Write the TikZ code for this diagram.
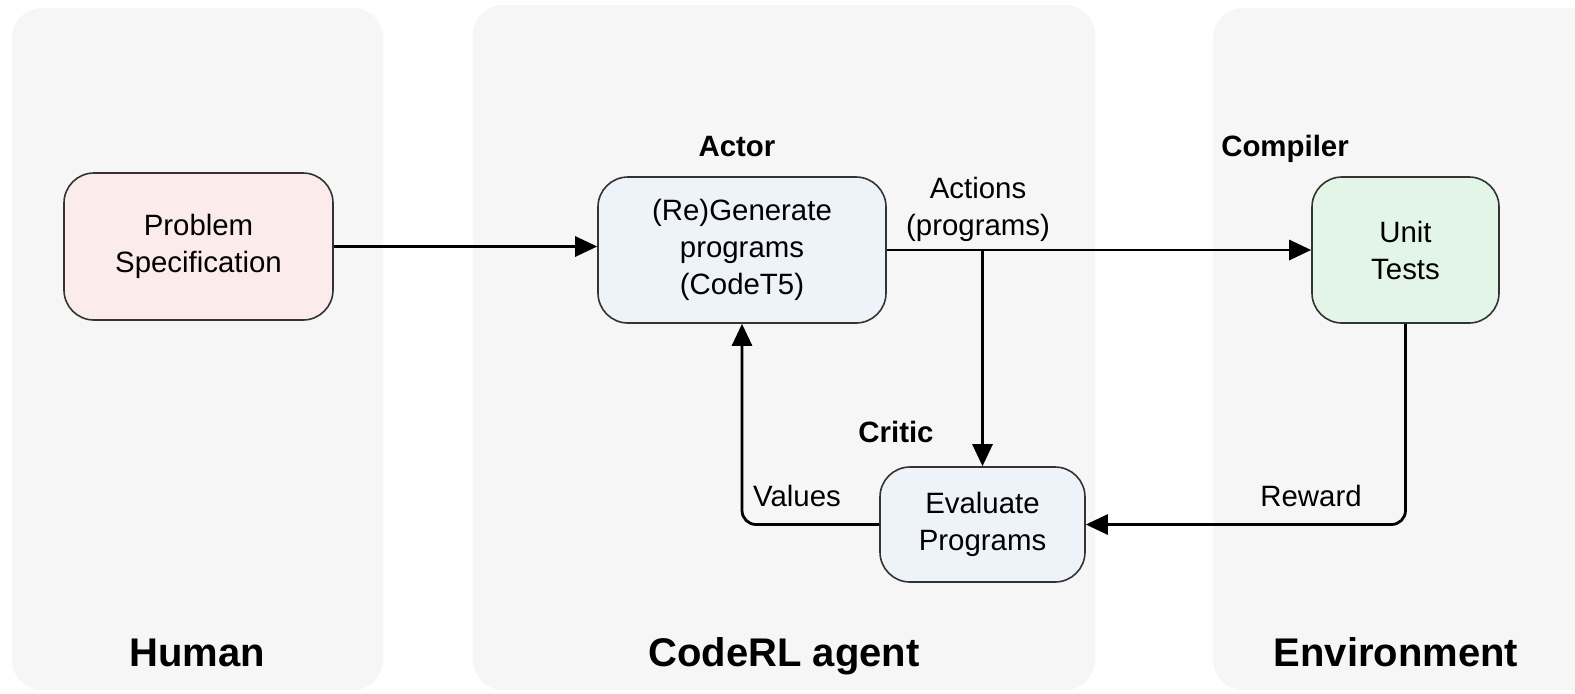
\documentclass[tikz,border=0pt]{standalone}
\usepackage{fontspec}
\setmainfont{Liberation Sans}
\usetikzlibrary{arrows.meta}
\definecolor{panelbg}{HTML}{F6F6F6}
\definecolor{pinkfill}{HTML}{FBEBEB}
\definecolor{bluefill}{HTML}{EEF3F9}
\definecolor{greenfill}{HTML}{E2F5E7}
\definecolor{boxline}{HTML}{333333}
\tikzset{
  panel/.style={fill=panelbg, draw=none, rounded corners=15pt},
  procbox/.style={draw=boxline, line width=0.8pt, rounded corners=15pt, align=center,
    font=\fontsize{14.7}{18.5}\selectfont, inner sep=0pt},
  lbl/.style={font=\fontsize{14.7}{18.5}\selectfont, align=center, inner sep=0pt},
  blbl/.style={font=\fontsize{14.7}{18.5}\selectfont\bfseries, inner sep=0pt, anchor=base},
  biglbl/.style={font=\fontsize{20}{24}\selectfont\bfseries, inner sep=0pt, anchor=base},
  conn/.style={line width=1.4pt, -{Triangle[length=11pt,width=10pt]}},
  connr/.style={conn, rounded corners=7pt},
}
\begin{document}
\begin{tikzpicture}[x=0.5pt,y=-0.5pt]
\useasboundingbox (0,0) rectangle (1575,693);
\fill[white] (0,0) rectangle (1575,693);
% panels
\path[panel] (12,8) rectangle (383,690);
\path[panel] (473,5) rectangle (1095,690);
\path[panel] (1213,8) rectangle (1620,690);
% boxes
\node[procbox, fill=pinkfill, minimum width=134.5pt, minimum height=73.5pt] (prob) at (198.5,246.5) {Problem\\Specification};
\node[procbox, fill=bluefill, minimum width=144pt, minimum height=73pt] (gen) at (742,250) {(Re)Generate\\programs\\(CodeT5)};
\node[procbox, fill=greenfill, minimum width=93.5pt, minimum height=73pt] (unit) at (1405.5,250) {Unit\\Tests};
\node[procbox, fill=bluefill, minimum width=102.5pt, minimum height=57.5pt] (eval) at (982.5,524.5) {Evaluate\\Programs};
% labels
\node[blbl] (actor) at (737,156) {Actor};
\node[blbl] (compiler) at (1285,156) {Compiler};
\node[blbl] (critic) at (896,442) {Critic};
\node[lbl] (actions) at (978,209) {Actions\\(programs)};
\node[lbl] (values) at (797,496) {Values};
\node[lbl] (reward) at (1311,496) {Reward};
\node[biglbl] (human) at (197,666) {Human};
\node[biglbl] (agent) at (784,666) {CodeRL agent};
\node[biglbl] (env) at (1396,666) {Environment};
% connectors
\coordinate (branch) at (gen.east -| eval.north);
\draw[conn] (prob.east) -- (prob.east -| gen.west);
\draw[conn] (gen.east) -- (unit.west);
\draw[conn] (branch) -- (eval.north);
\draw[connr] (unit.south) -- (unit.south |- eval.east) -- (eval.east);
\draw[connr] (eval.west) -- (gen.south |- eval.west) -- (gen.south);
\end{tikzpicture}
\end{document}
